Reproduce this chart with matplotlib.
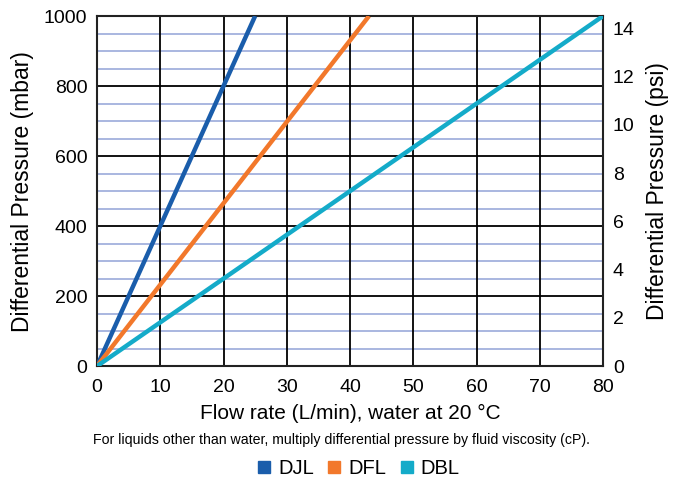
import matplotlib.pyplot as plt
from matplotlib.ticker import MultipleLocator
from matplotlib.lines import Line2D

plt.rcParams['font.family'] = ['Liberation Sans', 'DejaVu Sans']

# flow (L/min) where each model reaches a given differential pressure (mbar)
djl_flow = [0, 25]
dfl_flow = [0, 43]
dbl_flow = [0, 80]
pressure = [0, 1000]

names = ['DJL', 'DFL', 'DBL']
colors = ['#1a5dab', '#f2782b', '#14abc9']

fig = plt.figure(figsize=(6.83, 4.78), dpi=100)
ax = fig.add_axes([0.142, 0.234, 0.741, 0.7325])

# grid: thin blue every 50 mbar, black every 200 mbar / 10 L/min
for y in range(50, 1000, 50):
    if y % 200:
        ax.axhline(y, color='#a9b7e0', lw=1.4, zorder=1)
for y in range(200, 1000, 200):
    ax.axhline(y, color='black', lw=1.3, zorder=2)
for x in range(10, 80, 10):
    ax.axvline(x, color='black', lw=1.3, zorder=2)

for fl, c in zip([djl_flow, dfl_flow, dbl_flow], colors):
    ax.plot(fl, pressure, color=c, lw=3.2, zorder=3, solid_capstyle='butt')

ax.set_xlim(0, 80)
ax.set_ylim(0, 1000)
ax.xaxis.set_major_locator(MultipleLocator(10))
ax.yaxis.set_major_locator(MultipleLocator(200))
ax.tick_params(length=0, labelsize=14, pad=7)
ax.tick_params(axis='x', pad=9)
for s in ax.spines.values():
    s.set_color('#222222')
    s.set_linewidth(1.5)
ax.set_ylabel('Differential Pressure (mbar)', fontsize=16.5, labelpad=7)
ax.set_xlabel('Flow rate (L/min), water at 20 °C', fontsize=15, labelpad=6)

ax2 = ax.twinx()
ax2.set_ylim(0, 1000 * 0.0145038)
ax2.yaxis.set_major_locator(MultipleLocator(2))
ax2.tick_params(length=0, labelsize=14, pad=7)
for s in ax2.spines.values():
    s.set_visible(False)
ax2.set_ylabel('Differential Pressure (psi)', fontsize=16.5, labelpad=8)

fig.text(0.5, 0.079, 'For liquids other than water, multiply differential pressure by fluid viscosity (cP).',
         ha='center', va='center', fontsize=10.2)

handles = [Line2D([], [], marker='s', ls='none', color=c, markersize=8.6) for c in colors]
fig.legend(handles, names, loc='center', bbox_to_anchor=(0.523, 0.02), ncol=3, frameon=False,
           fontsize=14.5, handlelength=0.9, handletextpad=0.22, columnspacing=0.58, borderpad=0)

fig.savefig('out.png', dpi=100)
